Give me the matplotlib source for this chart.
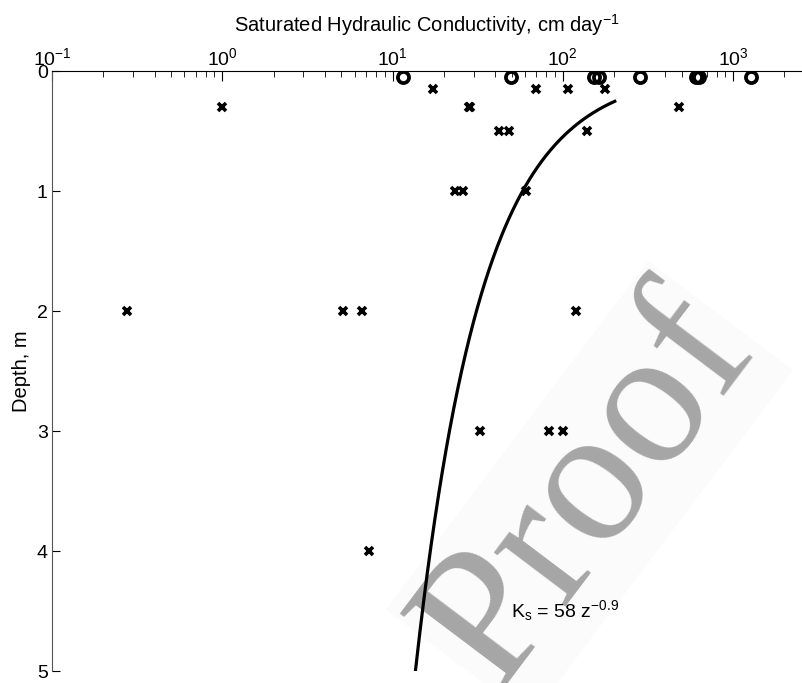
import numpy as np
import matplotlib
matplotlib.use("Agg")
import matplotlib.pyplot as plt

plt.rcParams["font.family"] = ["Liberation Sans", "DejaVu Sans"]
plt.rcParams["mathtext.fontset"] = "custom"
plt.rcParams["mathtext.rm"] = "Liberation Sans"
plt.rcParams["mathtext.it"] = "Liberation Sans"

# surface measurements (open circles)
surf_k = [11.5, 49.5, 153, 164, 284, 610, 630, 1282]
surf_z = [0.05] * len(surf_k)

# measurements at depth (crosses)
core_k = [17.3, 69.5, 108, 177,
          1.0, 28, 28.6, 482,
          42, 48.4, 138,
          23.2, 25.8, 61.2,
          0.275, 5.15, 6.6, 119,
          32.6, 82.8, 100.5,
          7.26]
core_z = [0.15, 0.15, 0.15, 0.15,
          0.3, 0.3, 0.3, 0.3,
          0.5, 0.5, 0.5,
          1.0, 1.0, 1.0,
          2.0, 2.0, 2.0, 2.0,
          3.0, 3.0, 3.0,
          4.0]

# fitted curve Ks = 58 z^-0.9
fit_a, fit_b = 58, -0.9
z = np.linspace(0.25, 5, 200)
ks = fit_a * z ** fit_b

fig = plt.figure(figsize=(8.02, 6.83), dpi=100)
ax = fig.add_axes([52 / 802, 11.7 / 683, 750 / 802, 600 / 683])

# watermark, drawn under the data
ax.text(0.735, 0.283, "Proof", fontsize=140, family="Liberation Serif",
        color="#a6a6a6", rotation=53, ha="center", va="center",
        rotation_mode="anchor", zorder=0, transform=fig.transFigure,
        bbox=dict(facecolor="#fbfbfb", edgecolor="none", pad=2))

ax.plot(ks, z, color="black", lw=2.3, zorder=3)
ax.plot(core_k, core_z, "x", color="black", ms=5.5, mew=2.6, zorder=4)
ax.plot(surf_k, surf_z, "o", mfc="none", mec="black", ms=8, mew=2.7, zorder=4)

ax.set_xscale("log")
ax.set_xlim(0.1, 10 ** 3.405)
ax.set_ylim(5, 0)
ax.set_yticks([0, 1, 2, 3, 4, 5])

ax.xaxis.tick_top()
ax.xaxis.set_label_position("top")
ax.set_xlabel("Saturated Hydraulic Conductivity, cm day$^{-1}$", fontsize=14.5, labelpad=11)
ax.set_ylabel("Depth, m", fontsize=14.5, labelpad=4)

ax.tick_params(axis="both", which="both", direction="in", labelsize=14)
ax.tick_params(axis="x", which="major", length=7, pad=1.5)
ax.tick_params(axis="x", which="minor", length=4)
ax.tick_params(axis="y", which="major", length=6, pad=3)

ax.spines["bottom"].set_visible(False)
ax.spines["right"].set_visible(False)
ax.spines["left"].set_color("#555555")

ax.text(49.5, 4.55, "K$_\\mathregular{s}$ = 58 z$^{\\mathregular{-0.9}}$", fontsize=14,
        ha="left", va="baseline", zorder=5)

fig.savefig("out.png", dpi=100)
